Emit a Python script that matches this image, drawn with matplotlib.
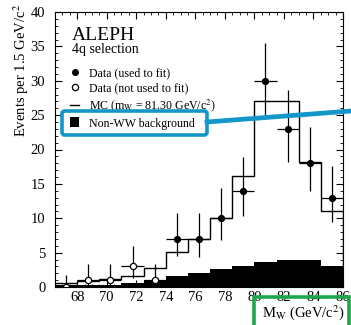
import matplotlib

matplotlib.use("Agg")

import matplotlib.pyplot as plt
from matplotlib.lines import Line2D
from matplotlib.patches import FancyBboxPatch, Patch
from matplotlib.ticker import MultipleLocator

# bin edges (1.5 GeV bins)
bin_edges = [66.5, 68.0, 69.5, 71.0, 72.5, 74.0, 75.5, 77.0, 78.5, 80.0, 81.5, 83.0, 84.5, 86.0]
mc_counts = [0.6, 0.9, 1.1, 1.6, 2.7, 5.1, 7.0, 10.0, 16.1, 27.1, 27.1, 18.2, 11.1]
background_counts = [0.3, 0.3, 0.35, 0.6, 1.0, 1.6, 2.1, 2.6, 3.1, 3.6, 3.9, 4.0, 3.1]

# data used in the fit
used_mass = [74.75, 76.25, 77.75, 79.25, 80.75, 82.25, 83.75, 85.25]
used_counts = [7, 7, 10, 14, 30, 23, 18, 13]
used_err_low = [2.5, 2.6, 3.2, 3.6, 5.4, 4.8, 4.1, 3.6]
used_err_high = [3.8, 3.8, 4.4, 4.9, 5.5, 5.7, 5.3, 4.6]

# data not used in the fit
unused_mass = [67.25, 68.75, 70.25, 71.75, 73.25]
unused_counts = [0, 1, 1, 3, 1]
unused_err_low = [0, 0.8, 0.8, 1.7, 0.8]
unused_err_high = [1.8, 2.3, 2.3, 2.9, 2.3]

W, H = 351, 325

plt.rcParams["font.family"] = ["Liberation Serif", "DejaVu Serif"]
plt.rcParams["mathtext.fontset"] = "stix"

fig = plt.figure(figsize=(W / 100, H / 100), dpi=100)
ax = fig.add_axes([55 / W, 1 - 287 / H, 288 / W, 275 / H])

ax.stairs(background_counts, bin_edges, fill=True, color="black", lw=0)
ax.stairs(mc_counts, bin_edges, color="black", lw=1.0)

ax.errorbar(
    used_mass, used_counts,
    yerr=[used_err_low, used_err_high], xerr=0.75,
    fmt="o", color="black", ms=4.2, elinewidth=0.9, capsize=0,
)
ax.errorbar(
    unused_mass, unused_counts,
    yerr=[unused_err_low, unused_err_high], xerr=0.75,
    fmt="o", color="black", mfc="white", mec="black", ms=4.5, mew=0.9,
    elinewidth=0.9, capsize=0,
)

ax.set_xlim(66.5, 86.0)
ax.set_ylim(0, 40)
ax.xaxis.set_major_locator(MultipleLocator(2))
ax.xaxis.set_minor_locator(MultipleLocator(0.5))
ax.yaxis.set_major_locator(MultipleLocator(5))
ax.yaxis.set_minor_locator(MultipleLocator(1))
ax.tick_params(which="both", direction="in", top=True, right=True, labelsize=10.5)
ax.tick_params(axis="x", pad=3)
ax.tick_params(axis="y", pad=7)
ax.tick_params(which="major", length=5)
ax.tick_params(which="minor", length=2.5)
for spine in ax.spines.values():
    spine.set_linewidth(0.8)

ax.text(0.06, 0.915, "ALEPH", transform=ax.transAxes, fontsize=14, va="center")
ax.text(0.06, 0.862, "4q selection", transform=ax.transAxes, fontsize=10, va="center")

handles = [
    Line2D([], [], ls="none", marker="o", color="black", ms=4),
    Line2D([], [], ls="none", marker="o", mfc="white", mec="black", ms=4.5, mew=0.9),
    Line2D([], [], color="black", lw=1.0),
    Patch(facecolor="black"),
]
labels = [
    "Data (used to fit)",
    "Data (not used to fit)",
    r"MC (m$_\mathrm{W}$ = 81.30 GeV/c$^2$)",
    "Non-WW background",
]
ax.legend(
    handles, labels, loc="upper left", bbox_to_anchor=(0.035, 0.815),
    frameon=False, fontsize=8.6, handlelength=0.8, handleheight=0.9,
    handletextpad=0.8, labelspacing=0.25, borderaxespad=0,
)

fig.text(21 / W, 1 - 70 / H, "Events per 1.5 GeV/c$^2$", rotation=90,
         ha="center", va="center", fontsize=10.5)
fig.text(303 / W, 1 - 313 / H, r"M$_\mathrm{W}$ (GeV/c$^2$)",
         ha="center", va="center", fontsize=10.5)

# highlight overlays
cyan = "#1396c9"
green = "#1fa64a"
fig.patches.append(FancyBboxPatch(
    (62 / W, 1 - 135 / H), 145 / W, 24 / H, boxstyle="round,pad=0,rounding_size=0.008",
    transform=fig.transFigure, fill=False, ec=cyan, lw=2.6, zorder=10,
))
fig.lines.append(Line2D(
    [207 / W, 351 / W], [1 - 122 / H, 1 - 111 / H],
    transform=fig.transFigure, color=cyan, lw=3.4, zorder=10,
))
fig.patches.append(FancyBboxPatch(
    (254 / W, 1 - 327 / H), 95 / W, 30 / H, boxstyle="square,pad=0",
    transform=fig.transFigure, fill=False, ec=green, lw=2.6, zorder=10,
))

fig.savefig("out.png", dpi=100)
